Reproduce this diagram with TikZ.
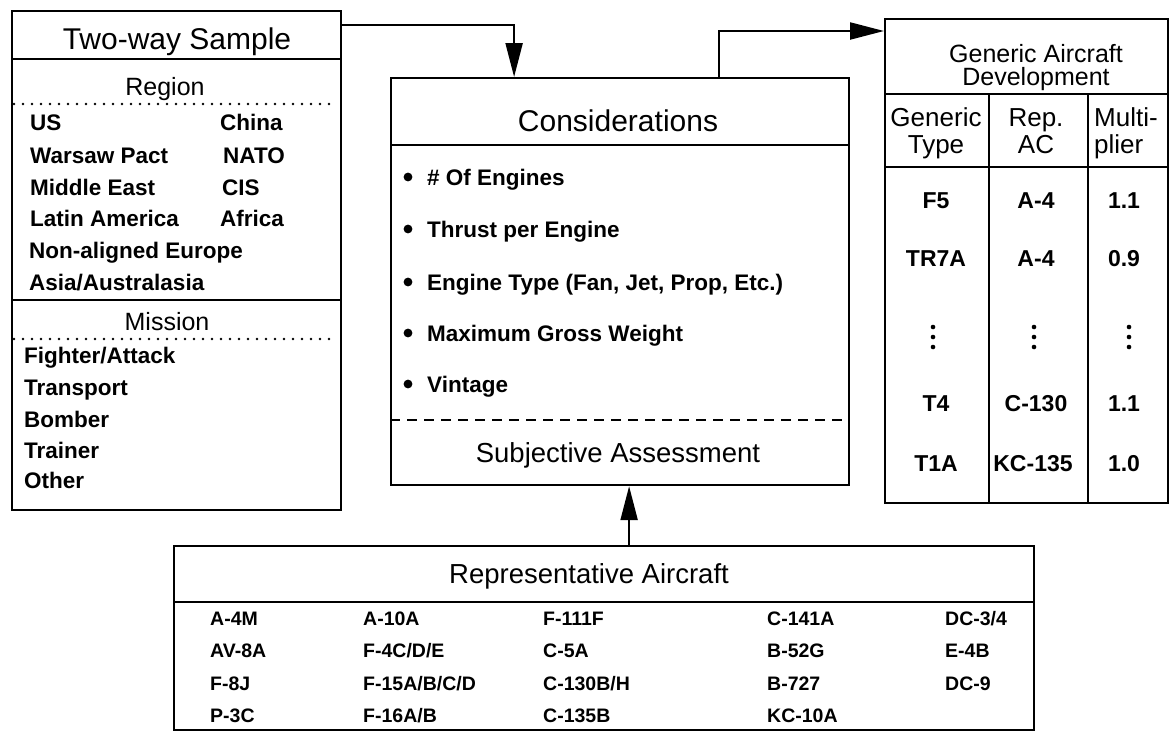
\documentclass[tikz,border=0pt]{standalone}
\usepackage{fontspec}
\setmainfont{Liberation Sans}
\usetikzlibrary{arrows.meta}
\begin{document}
\begin{tikzpicture}[x=1pt,y=-1pt,
  box/.style={draw, line width=2.2pt, rectangle, inner sep=0pt, anchor=north west},
  ttl/.style={font=\fontsize{30}{30}\selectfont, inner sep=0pt, anchor=base},
  sub/.style={font=\fontsize{25}{25}\selectfont, inner sep=0pt, anchor=base},
  hdr/.style={font=\fontsize{26}{26}\selectfont, inner sep=0pt, anchor=base},
  item/.style={font=\fontsize{22.5}{22.5}\selectfont\bfseries, inner sep=0pt, anchor=base west},
  ac/.style={font=\fontsize{19.5}{19.5}\selectfont\bfseries, inner sep=0pt, anchor=base west},
  cell/.style={font=\fontsize{23}{23}\selectfont\bfseries, inner sep=0pt, anchor=base},
  rule/.style={line width=2.2pt},
  dotrule/.style={line width=2.6pt, line cap=round, dash pattern=on 0pt off 9pt},
  dashrule/.style={line width=2.2pt, dash pattern=on 10pt off 7pt},
  arr/.style={line width=2.2pt, -{Triangle[length=34pt,width=17pt]}},
]
\useasboundingbox (0,0) rectangle (1174,734);

% ---------- Two-way Sample ----------
\node[box, minimum width=329pt, minimum height=499pt] (sample) at (11,10) {};
\draw[rule] (11,59) -- (340,59);
\node[ttl] (twoway) at (177,49) {Two-way Sample};
\node[sub] (region) at (165,95) {Region};
\draw[dotrule] (14,104) -- (330,104);
\node[item] (us) at (30,130) {US};
\node[item] (china) at (220,130) {China};
\node[item] (warsaw) at (30,163) {Warsaw Pact};
\node[item] (nato) at (223,163) {NATO};
\node[item] (mideast) at (30,195) {Middle East};
\node[item] (cis) at (222,195) {CIS};
\node[item] (latin) at (30,226) {Latin America};
\node[item] (africa) at (220,226) {Africa};
\node[item] (nonal) at (29,258) {Non-aligned Europe};
\node[item] (asia) at (29,290) {Asia/Australasia};
\draw[rule] (11,300) -- (340,300);
\node[sub] (mission) at (167,330) {Mission};
\draw[dotrule] (14,339) -- (330,339);
\node[item] (fighter) at (24,363) {Fighter/Attack};
\node[item] (transport) at (24,395) {Transport};
\node[item] (bomber) at (24,427) {Bomber};
\node[item] (trainer) at (24,458) {Trainer};
\node[item] (other) at (24,488) {Other};

% ---------- Considerations ----------
\node[box, minimum width=458pt, minimum height=407pt] (consid) at (390,77) {};
\draw[rule] (390,145) -- (848,145);
\node[ttl] (considt) at (618,131) {Considerations};
\foreach \yy/\txt [count=\i] in {185/{\# Of Engines}, 237/{Thrust per Engine}, 290/{Engine Type (Fan, Jet, Prop, Etc.)}, 341/{Maximum Gross Weight}, 392/{Vintage}} {
  \fill (408,\yy-8) circle (4.4pt);
  \node[item] (bul\i) at (427,\yy) {\txt};
}
\draw[dashrule] (390,420) -- (848,420);
\node[hdr, font=\fontsize{27.5}{27.5}\selectfont] (subj) at (618,462) {Subjective Assessment};

% ---------- Generic Aircraft Development ----------
\node[box, minimum width=283pt, minimum height=484pt] (generic) at (884,18) {};
\draw[rule] (884,94) -- (1167,94);
\draw[rule] (884,167) -- (1167,167);
\draw[rule] (989,94) -- (989,502);
\draw[rule] (1088,94) -- (1088,502);
\node[sub] (gad1) at (1036,62) {Generic Aircraft};
\node[sub] (gad2) at (1036,85) {Development};
\node[hdr] (h1a) at (936,126) {Generic};
\node[hdr] (h1b) at (936,153) {Type};
\node[hdr] (h2a) at (1036,126) {Rep.};
\node[hdr] (h2b) at (1036,153) {AC};
\node[hdr, anchor=base west] (h3a) at (1094,126) {Multi-};
\node[hdr, anchor=base west] (h3b) at (1094,153) {plier};
\node[cell] (c11) at (936,208) {F5};
\node[cell] (c12) at (1036,208) {A-4};
\node[cell] (c13) at (1124,208) {1.1};
\node[cell] (c21) at (936,266) {TR7A};
\node[cell] (c22) at (1036,266) {A-4};
\node[cell] (c23) at (1124,266) {0.9};
\foreach \xx in {933,1034,1129} {
  \foreach \yy in {327,337,347} {
    \fill (\xx,\yy) circle (2.3pt);
  }
}
\node[cell] (c41) at (936,411) {T4};
\node[cell] (c42) at (1036,411) {C-130};
\node[cell] (c43) at (1124,411) {1.1};
\node[cell] (c51) at (936,471) {T1A};
\node[cell] (c52) at (1033,471) {KC-135};
\node[cell] (c53) at (1124,471) {1.0};

% ---------- Representative Aircraft ----------
\node[box, minimum width=860pt, minimum height=184pt] (repac) at (173,545) {};
\draw[rule] (173,602) -- (1033,602);
\node[hdr, font=\fontsize{27.5}{27.5}\selectfont] (repact) at (589,583) {Representative Aircraft};
\node[ac] (a11) at (210,625) {A-4M};
\node[ac] (a12) at (363,625) {A-10A};
\node[ac] (a13) at (543,625) {F-111F};
\node[ac] (a14) at (767,625) {C-141A};
\node[ac] (a15) at (945,625) {DC-3/4};
\node[ac] (a21) at (210,657) {AV-8A};
\node[ac] (a22) at (363,657) {F-4C/D/E};
\node[ac] (a23) at (543,657) {C-5A};
\node[ac] (a24) at (767,657) {B-52G};
\node[ac] (a25) at (945,657) {E-4B};
\node[ac] (a31) at (210,690) {F-8J};
\node[ac] (a32) at (363,690) {F-15A/B/C/D};
\node[ac] (a33) at (543,690) {C-130B/H};
\node[ac] (a34) at (767,690) {B-727};
\node[ac] (a35) at (945,690) {DC-9};
\node[ac] (a41) at (210,722) {P-3C};
\node[ac] (a42) at (363,722) {F-16A/B};
\node[ac] (a43) at (543,722) {C-135B};
\node[ac] (a44) at (767,722) {KC-10A};

% ---------- Connectors ----------
\draw[arr] ([yshift=-15pt]sample.north east) -| ([xshift=-106pt]consid.north);
\draw[arr] ([xshift=99pt]consid.north) |- ([yshift=-13pt]generic.north west);
\draw[arr] ([xshift=25pt]repac.north) -- ([xshift=25pt]repac.north |- consid.south);
\end{tikzpicture}
\end{document}
